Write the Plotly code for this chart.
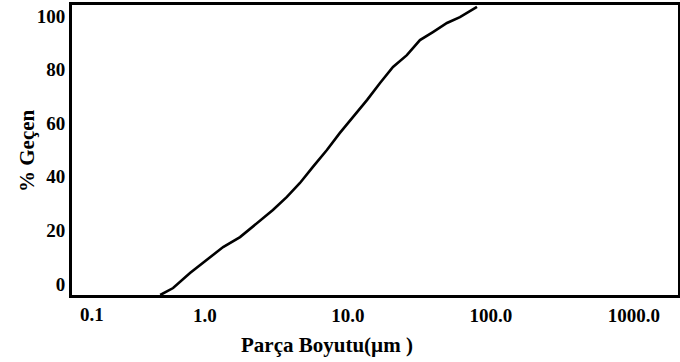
import plotly.graph_objects as go

# Particle size (µm) and cumulative % passing
size_um = [0.65, 0.80, 1.05, 1.38, 1.79, 2.35, 3.09, 3.99, 5.00, 6.17, 7.60, 9.52,
           11.7, 14.5, 18.2, 22.4, 27.6, 34.5, 42.6, 52.5, 65.8, 81.1, 106.7]
passing_pct = [-4.1, -1.5, 4.1, 9.0, 13.8, 17.5, 22.8, 27.6, 32.5, 37.7, 43.7, 50.0,
               56.3, 62.3, 68.7, 75.0, 81.0, 85.4, 91.0, 94.0, 97.4, 99.6, 103.4]

x_tick_vals = [0.1, 1, 10, 100, 1000]
x_tick_text = ["0.1", "1.0", "10.0", "100.0", "1000.0"]
y_tick_vals = [0, 20, 40, 60, 80, 100]
y_tick_text = ["0", "20", "40", "60", "80", "100"]
x_title = "Parça Boyutu(µm )"
y_title = "% Geçen"

FONT = "Liberation Serif"
TICK_FONT = dict(family=FONT, size=19, weight="bold", color="black")
TITLE_FONT = dict(family=FONT, size=21, weight="bold", color="black")

fig = go.Figure()
fig.add_trace(go.Scatter(
    x=size_um, y=passing_pct, mode="lines",
    line=dict(color="black", width=2.6, shape="linear"),
    showlegend=False, hoverinfo="skip", cliponaxis=True,
))

fig.update_layout(
    width=680, height=362,
    margin=dict(l=72, r=2, t=5, b=67),
    paper_bgcolor="white", plot_bgcolor="white",
    font=dict(family=FONT, color="black", size=17, weight="bold"),
)

fig.update_xaxes(
    type="log", range=[-0.804, 3.434], automargin=False,
    tickvals=x_tick_vals, ticktext=x_tick_text,
    ticklabelshift=18, ticklabelstandoff=1,
    showgrid=False, zeroline=False,
    showline=True, linecolor="black", linewidth=3, mirror=True,
    tickfont=TICK_FONT,
)
fig.update_yaxes(
    range=[-4.1, 104.1], automargin=False,
    tickvals=y_tick_vals, ticktext=y_tick_text,
    ticklabelstandoff=0,
    showgrid=False, zeroline=False,
    showline=True, linecolor="black", linewidth=3, mirror=True,
    tickfont=TICK_FONT,
)

# The first decade label sits at the left edge of the frame in the reference
fig.add_annotation(
    text=x_tick_text[0], xref="paper", yref="paper",
    x=0.033, y=0, xanchor="center", yanchor="top", yshift=-7,
    showarrow=False, font=TICK_FONT,
)
# x-axis title, placed left of centre as in the reference
fig.add_annotation(
    text=x_title, xref="paper", yref="paper",
    x=0.42, y=0, xanchor="center", yanchor="top", yshift=-36,
    showarrow=False, font=TITLE_FONT,
)
# y-axis title
fig.add_annotation(
    text=y_title, xref="paper", yref="paper",
    x=-0.0743, y=0.5, xanchor="center", yanchor="middle", textangle=-90,
    showarrow=False, font=TITLE_FONT,
)

fig.write_html("out.html", config={"displayModeBar": False},
               post_script="document.body.style.margin='0';")
